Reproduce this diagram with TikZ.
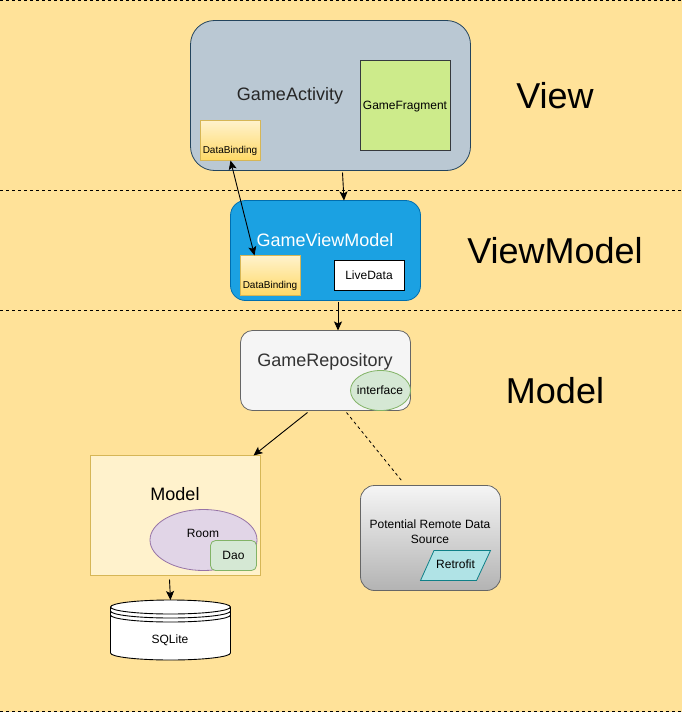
\documentclass[tikz,border=0pt]{standalone}
\usepackage{fontspec}
\setmainfont{Liberation Sans}
\usetikzlibrary{arrows.meta,shapes.geometric,calc}
\definecolor{bgc}{HTML}{FFE299}
\definecolor{yelline}{HTML}{D6B656}\definecolor{yellight}{HTML}{FFF2CC}\definecolor{yeldark}{HTML}{FFD966}
\definecolor{slatefill}{HTML}{BAC8D3}\definecolor{slateline}{HTML}{23445D}
\definecolor{limefill}{HTML}{CDEB8B}\definecolor{limeline}{HTML}{36393D}
\definecolor{bluefill}{HTML}{1BA1E2}\definecolor{blueline}{HTML}{006EAF}
\definecolor{greyfill}{HTML}{F5F5F5}\definecolor{greyline}{HTML}{666666}\definecolor{greydark}{HTML}{B3B3B3}
\definecolor{greentfill}{HTML}{D5E8D4}\definecolor{greenline}{HTML}{82B366}
\definecolor{purplefill}{HTML}{E1D5E7}\definecolor{purpleline}{HTML}{9673A6}
\definecolor{tealfill}{HTML}{B0E3E6}\definecolor{tealline}{HTML}{0E8088}
\newcommand{\fs}[1]{\fontsize{#1}{1.2em}\selectfont}
\tikzset{
  x=1pt,y=-1pt,
  tip/.tip={Stealth[length=9pt,width=8pt,inset=2pt]},
  box/.style={rectangle,inner sep=0pt,outer sep=0pt,align=center,line width=.8pt},
  databind/.style={box,draw=yelline,top color=yellight,bottom color=yeldark,minimum width=60pt,minimum height=40pt},
  band/.style={black,line width=.8pt,dash pattern=on 3pt off 3pt},
  conn/.style={black,line width=.9pt,-tip},
  title/.style={inner sep=0pt,font=\fs{36}},
  caption/.style={inner sep=0pt,font=\fs{18}},
  small/.style={inner sep=0pt,align=center,font=\fs{12},text height=9pt,text depth=2.5pt},
  tiny/.style={inner sep=0pt,font=\fs{10}},
  cyl/.style={black,line width=.9pt}
}
\begin{document}
\begin{tikzpicture}
\useasboundingbox (0,0) rectangle (682,712);
\fill[bgc] (0,0) rectangle (682,712);
\coordinate (b0l) at (0,0.5);\coordinate (b0r) at (682,0.5);
\coordinate (b1l) at (0,190);\coordinate (b1r) at (682,190);
\coordinate (b2l) at (0,310);\coordinate (b2r) at (682,310);
\coordinate (b3l) at (0,711);\coordinate (b3r) at (682,711);
\draw[band] (b0l) -- (b0r);
\draw[band] (b1l) -- (b1r);
\draw[band] (b2l) -- (b2r);
\draw[band] (b3l) -- (b3r);

% View
\node[box,draw=slateline,fill=slatefill,rounded corners=24pt,minimum width=280pt,minimum height=150pt] (ga) at (330.5,95.5) {};
\node[caption,text=black!85] (gat) at (290,96) {GameActivity};
\node[box,draw=limeline,fill=limefill,minimum width=90pt,minimum height=90pt] (gf) at (405.5,105.5) {};
\node[small] (gft) at (405,106) {GameFragment};
\node[databind] (db1) at (230.5,140.5) {};
\node[tiny] (db1t) at (230,151) {DataBinding};

% ViewModel
\node[box,draw=blueline,fill=bluefill,rounded corners=15pt,minimum width=190pt,minimum height=100pt] (gvm) at (325.5,250.5) {};
\node[caption,text=white] (gvmt) at (325,240) {GameViewModel};
\node[databind] (db2) at (270.5,275.5) {};
\node[tiny] (db2t) at (270,286) {DataBinding};
\node[box,draw=black,fill=white,minimum width=70pt,minimum height=30pt,font=\fs{12}] (ld) at (369,275.5) {LiveData};

% Repository
\node[box,draw=greyline,fill=greyfill,rounded corners=12pt,minimum width=170pt,minimum height=80pt] (repo) at (325.5,370.5) {};
\node[caption,text=black!80] (repot) at (325,361.5) {GameRepository};
\node[ellipse,draw=greenline,fill=greentfill,inner sep=0pt,line width=.8pt,minimum width=60pt,minimum height=40pt] (if) at (380.5,390.5) {};
\node[small] (ift) at (380,391) {interface};

% Model
\node[box,draw=yelline,fill=yellight,minimum width=170pt,minimum height=120pt] (model) at (175.5,515.5) {};
\node[caption] (modelt) at (175,494) {Model};
\node[ellipse,draw=purpleline,fill=purplefill,inner sep=0pt,line width=.8pt,minimum width=107pt,minimum height=61pt] (room) at (203.5,540) {};
\node[small] (roomt) at (203,534) {Room};
\node[box,draw=greenline,fill=greentfill,rounded corners=5pt,minimum width=46pt,minimum height=30pt,font=\fs{12}] (dao) at (233.5,555.5) {Dao};

% SQLite
\coordinate (sqltop) at (170.5,600);
\filldraw[cyl,fill=white] (110.5,607) -- (110.5,653) arc[start angle=180,end angle=360,x radius=60pt,y radius=7pt] -- (230.5,607) arc[start angle=0,end angle=180,x radius=60pt,y radius=7pt] -- cycle;
\draw[cyl] (110.5,607) arc[start angle=180,end angle=360,x radius=60pt,y radius=7pt];
\draw[cyl] (110.5,611) arc[start angle=180,end angle=360,x radius=60pt,y radius=7pt];
\draw[cyl] (110.5,615) arc[start angle=180,end angle=360,x radius=60pt,y radius=7pt];
\node[small] (sql) at (170,640) {SQLite};

% Remote
\node[box,draw=greyline,top color=greyfill,bottom color=greydark,rounded corners=14pt,minimum width=140pt,minimum height=105pt] (remote) at (430.5,538) {};
\node[small] (remotet) at (430,540) {Potential Remote Data\\[3pt]Source};
\filldraw[draw=tealline,fill=tealfill,line width=.8pt] (434,550.5) -- (490.5,550.5) -- (476.5,580.5) -- (420.5,580.5) -- cycle;
\node[small] (retro) at (455.5,565.5) {Retrofit};

% Titles
\node[title] (tv) at (555,96) {View};
\node[title] (tvm) at (555,251) {ViewModel};
\node[title] (tm) at (555,391) {Model};

% Connectors
\draw[conn] ([xshift=12,yshift=-2]ga.south) -- ([xshift=18.5]gvm.north);
\draw[black,line width=.9pt,tip-tip] (db1.south) -- ([xshift=-16]db2.north);
\draw[conn] ([xshift=12.5,yshift=-1]gvm.south) -- ([xshift=12.5]repo.north);
\draw[conn] ([xshift=-18,yshift=-2]repo.south) -- ([xshift=78]model.north);
\draw[black,line width=.8pt,dash pattern=on 3pt off 3pt] ([xshift=21,yshift=-2]repo.south) -- ([xshift=-29,yshift=5]remote.north);
\draw[conn] ([xshift=-6,yshift=-4]model.south) -- (sqltop);
\end{tikzpicture}
\end{document}
